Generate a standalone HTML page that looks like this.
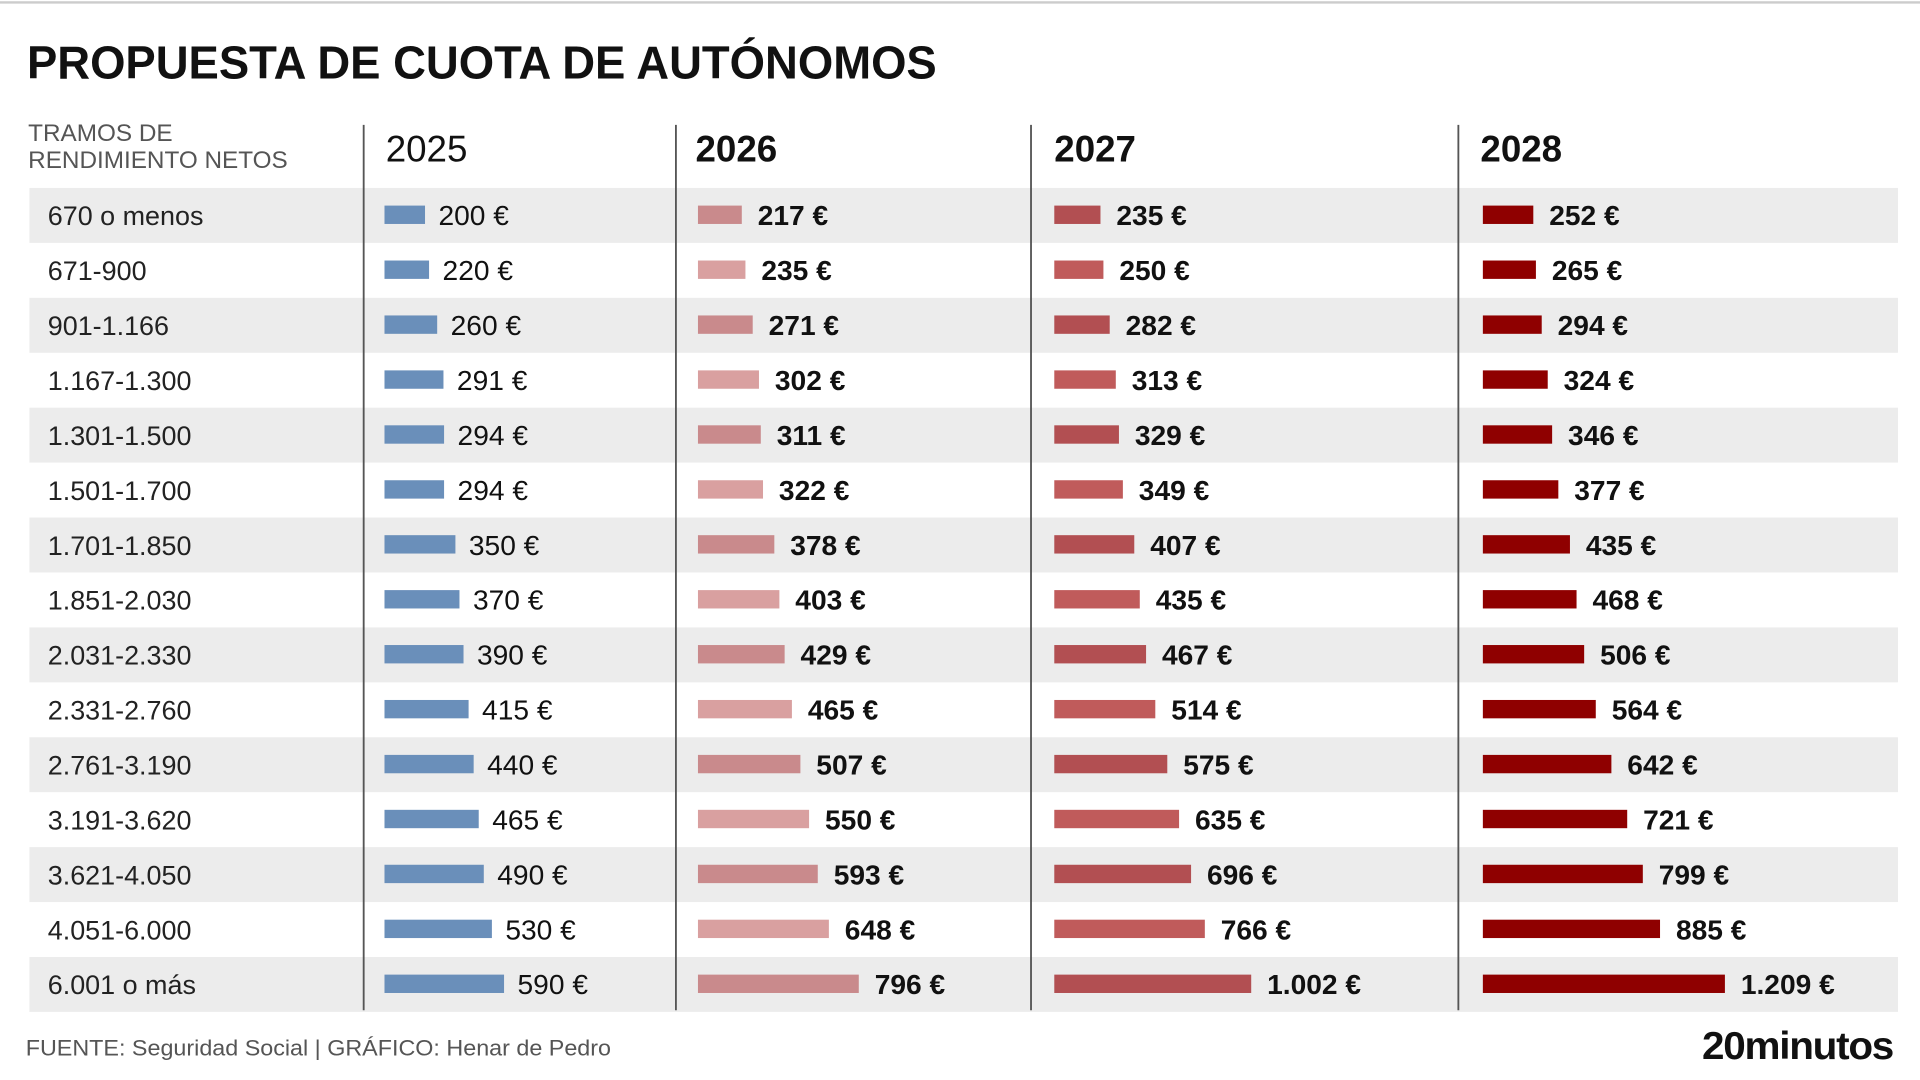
<!DOCTYPE html>
<html><head><meta charset="utf-8"><style>
html,body{margin:0;padding:0;background:#fff;width:1920px;height:1080px;overflow:hidden}
svg{display:block}
text{font-family:"Liberation Sans",sans-serif}
</style></head><body>
<svg id="s" width="1920" height="1080" viewBox="0 0 1568 882" xmlns="http://www.w3.org/2000/svg">
<rect x="0" y="0" width="1568" height="882" fill="#fff"/>
<line x1="0" y1="2" x2="1568" y2="2" stroke="#ccc" stroke-width="2"/>
<text x="22" y="64" font-size="38" font-weight="bold" fill="#111" textLength="743" lengthAdjust="spacingAndGlyphs">PROPUESTA DE CUOTA DE AUTÓNOMOS</text>
<text x="23" y="115" font-size="20" fill="#555" textLength="118" lengthAdjust="spacingAndGlyphs">TRAMOS DE</text>
<text x="23" y="137" font-size="20" fill="#555" textLength="212" lengthAdjust="spacingAndGlyphs">RENDIMIENTO NETOS</text>
<g id="rows"></g>
<text x="315" y="132" font-size="30" fill="#111">2025</text>
<text x="568" y="132" font-size="30" font-weight="bold" fill="#111">2026</text>
<text x="861" y="132" font-size="30" font-weight="bold" fill="#111">2027</text>
<text x="1209" y="132" font-size="30" font-weight="bold" fill="#111">2028</text>
<g stroke="#555" stroke-width="1.5">
<line x1="297" y1="102" x2="297" y2="825"/><line x1="552" y1="102" x2="552" y2="825"/>
<line x1="842" y1="102" x2="842" y2="825"/><line x1="1191" y1="102" x2="1191" y2="825"/>
</g>
<text x="21" y="862" font-size="18" fill="#555" textLength="478" lengthAdjust="spacingAndGlyphs">FUENTE: Seguridad Social  |  GRÁFICO: Henar de Pedro</text>
<text x="1546" y="865" font-size="32" font-weight="bold" fill="#111" text-anchor="end" textLength="156" lengthAdjust="spacingAndGlyphs" letter-spacing="-1">20minutos</text>
</svg>
<script>
(function(){
var labels=["670 o menos","671-900","901-1.166","1.167-1.300","1.301-1.500","1.501-1.700","1.701-1.850","1.851-2.030","2.031-2.330","2.331-2.760","2.761-3.190","3.191-3.620","3.621-4.050","4.051-6.000","6.001 o más"];
var d=[[200,220,260,291,294,294,350,370,390,415,440,465,490,530,590],
[217,235,271,302,311,322,378,403,429,465,507,550,593,648,796],
[235,250,282,313,329,349,407,435,467,514,575,635,696,766,1002],
[252,265,294,324,346,377,435,468,506,564,642,721,799,885,1209]];
var x0=[314,570,861,1211], sc=[0.1655,0.165,0.1605,0.1635];
var c1=["#6a8fba","#c98a8c","#b24f52","#8f0000"], c2=["#6a8fba","#d9a0a0","#c05b5b","#8f0000"];
function fmt(v){var s=String(v);if(v>=1000)s=s.slice(0,-3)+"."+s.slice(-3);return s+" €";}
var h="";
for(var i=0;i<15;i++){
 var ty=153.5+i*44.86, cy=ty+22.4;
 if(i%2==0) h+='<rect x="24" y="'+ty+'" width="1526" height="44.86" fill="#ececec"/>';
 h+='<text x="39" y="'+(cy+8)+'" font-size="22" fill="#222">'+labels[i]+'</text>';
 for(var j=0;j<4;j++){
  var w=d[j][i]*sc[j], col=(i%2==0)?c1[j]:c2[j];
  h+='<rect x="'+x0[j]+'" y="'+(cy-8)+'" width="'+w+'" height="15" fill="'+col+'"/>';
  h+='<text x="'+(x0[j]+w+(j==0?11:13))+'" y="'+(cy+8)+'" font-size="23" fill="#111"'+(j>0?' font-weight="bold"':'')+'>'+fmt(d[j][i])+'</text>';
 }
}
document.getElementById("rows").innerHTML=h;
})();
</script>
</body></html>
